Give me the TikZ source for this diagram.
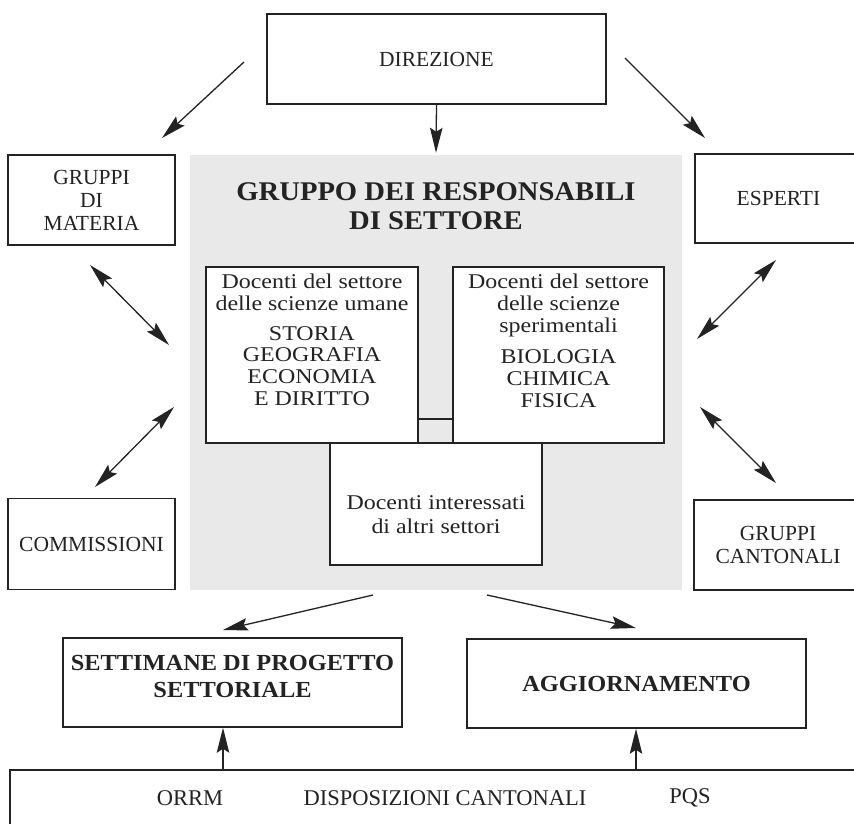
\documentclass[tikz,border=0pt]{standalone}
\usepackage{fontspec}
\setmainfont{Liberation Serif}
\newfontfamily\widefont[FakeStretch=1.14]{Liberation Serif}
\newfontfamily\titlefont[FakeStretch=1.06]{Liberation Serif}
\usetikzlibrary{arrows.meta}
\definecolor{ink}{RGB}{35,35,35}
\definecolor{panel}{RGB}{233,233,233}
\begin{document}
\begin{tikzpicture}[x=1pt,y=-1pt,
  box/.style={draw=ink, line width=1.5pt, inner sep=0pt, align=center, text=ink, font=\fontsize{21.5}{23}\selectfont},
  inbox/.style={draw=ink, line width=1.5pt, fill=white, inner sep=0pt},
  intext/.style={align=center, inner sep=0pt, text=ink, font=\widefont\fontsize{21}{21.8}\selectfont},
  boldtext/.style={align=center, inner sep=0pt, text=ink, font=\titlefont\bfseries\fontsize{23}{27}\selectfont},
  plain/.style={inner sep=0pt, text=ink, font=\fontsize{22.5}{24}\selectfont},
  tip/.tip={Stealth[length=25pt,width=12.5pt,inset=4pt]},
  arr/.style={draw=ink, line width=1.3pt, -tip},
  darr/.style={draw=ink, line width=1.3pt, tip-tip}
]
\useasboundingbox (0,0) rectangle (854,824);
\fill[white] (0,0) rectangle (854,824);
\clip (0,0) rectangle (854,824);

% top
\node[box, minimum width=339, minimum height=90] (dir) at (436.5,59) {DIREZIONE};
\node[box, minimum width=167, minimum height=90] (gm) at (91.5,200) {GRUPPI\\DI\\MATERIA};
\node[box, minimum width=167, minimum height=89] (esp) at (778.5,198.5) {ESPERTI};

% panel
\node[fill=panel, minimum width=492, minimum height=435, inner sep=0pt] (panel) at (436,372.5) {};
\node[boldtext, font=\titlefont\bfseries\fontsize{27}{29}\selectfont] (title) at (436,206) {GRUPPO DEI RESPONSABILI\\DI SETTORE};

\node[inbox, minimum width=212, minimum height=122] (alt) at (436,504) {};
\node[inbox, minimum width=212, minimum height=176] (hum) at (312,355) {};
\node[inbox, minimum width=211, minimum height=176] (sci) at (558.5,355) {};
\draw[draw=ink, line width=1.5pt] ([yshift=25pt]hum.south east) -- ([yshift=25pt]sci.south west);

\node[intext, anchor=north] (humtxt) at ([yshift=-7.5pt]hum.north) {Docenti del settore\\delle scienze umane\\[8pt]STORIA\\GEOGRAFIA\\ECONOMIA\\E DIRITTO};
\node[intext, anchor=north] (scitxt) at ([yshift=-7.5pt]sci.north) {Docenti del settore\\delle scienze\\sperimentali\\[10pt]BIOLOGIA\\CHIMICA\\FISICA};
\node[intext, font=\widefont\fontsize{21}{24}\selectfont] (alttxt) at (436,515) {Docenti interessati\\di altri settori};

% sides
\node[box, minimum width=167, minimum height=91] (comm) at (91.5,544) {COMMISSIONI};
\node[box, minimum width=168, minimum height=90] (gc) at (778,545) {GRUPPI\\CANTONALI};

% bottom
\node[box, minimum width=339, minimum height=89] (sett) at (232.5,682.5) {};
\node[boldtext] (setttxt) at (232.5,676) {SETTIMANE DI PROGETTO\\SETTORIALE};
\node[box, boldtext, draw=ink, minimum width=339, minimum height=89] (agg) at (636.5,683.5) {AGGIORNAMENTO};
\node[draw=ink, line width=1.5pt, inner sep=0pt, minimum width=870, minimum height=80, anchor=north west] (rules) at (9,769) {};
\node[plain] (orrm) at (190,798) {ORRM};
\node[plain] (disp) at (445,798) {DISPOSIZIONI CANTONALI};
\node[plain] (pqs) at (690,798) {PQS};

% coordinates for free arrow ends
\coordinate (a1s) at (244,62);  \coordinate (a1e) at (162,138);
\coordinate (a3s) at (625,58);  \coordinate (a3e) at (705,138);
\coordinate (d1s) at (90,265);  \coordinate (d1e) at (169,345);
\coordinate (d2s) at (174,407); \coordinate (d2e) at (95,487);
\coordinate (d3s) at (776,260); \coordinate (d3e) at (697,339);
\coordinate (d4s) at (700,407); \coordinate (d4e) at (776,483);
\coordinate (b1s) at (373,595); \coordinate (b1e) at (223,630);
\coordinate (b2s) at (487,595); \coordinate (b2e) at (636,628);
\coordinate (u1) at (223,769);  \coordinate (u2) at (636,769);

\draw[arr] (a1s) -- (a1e);
\draw[arr] (dir.south) -- ([yshift=2pt]panel.north);
\draw[arr] (a3s) -- (a3e);
\draw[darr] (d1s) -- (d1e);
\draw[darr] (d2s) -- (d2e);
\draw[darr] (d3s) -- (d3e);
\draw[darr] (d4s) -- (d4e);
\draw[arr] (b1s) -- (b1e);
\draw[arr] (b2s) -- (b2e);
\draw[arr] (u1) -- (u1 |- sett.south);
\draw[arr] (u2) -- (u2 |- agg.south);
\end{tikzpicture}
\end{document}
